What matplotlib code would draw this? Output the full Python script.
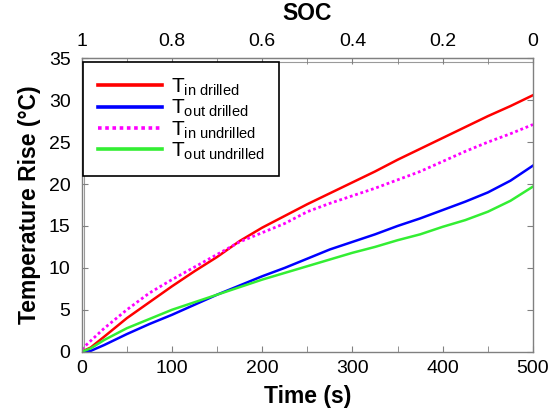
import matplotlib
matplotlib.use("Agg")
import matplotlib.pyplot as plt
from matplotlib.ticker import MultipleLocator

plt.rcParams["font.family"] = ["Liberation Sans", "DejaVu Sans"]
plt.rcParams["mathtext.fontset"] = "custom"
plt.rcParams["mathtext.rm"] = "Liberation Sans"
plt.rcParams["mathtext.it"] = "Liberation Sans"

# time (s)
time_s = [0, 10, 25, 50, 75, 100, 125, 150, 175, 200, 225, 250,
          275, 300, 325, 350, 375, 400, 425, 450, 475, 500]

# temperature rise (°C)
t_in_drilled = [0.0, 0.5, 1.8, 4.0, 5.9, 7.8, 9.6, 11.3, 13.2, 14.8, 16.2, 17.6,
                18.9, 20.2, 21.5, 22.9, 24.2, 25.5, 26.8, 28.1, 29.3, 30.6]
t_out_drilled = [0.0, 0.1, 0.8, 2.1, 3.3, 4.4, 5.6, 6.8, 7.9, 9.0, 10.0, 11.1,
                 12.2, 13.1, 14.0, 15.0, 15.9, 16.9, 17.9, 19.0, 20.4, 22.2]
t_in_undrilled = [0.3, 1.3, 2.8, 5.0, 7.0, 8.6, 10.1, 11.6, 13.1, 14.2, 15.3, 16.7,
                  17.7, 18.6, 19.5, 20.5, 21.5, 22.7, 23.9, 25.0, 26.0, 27.1]
t_out_undrilled = [0.0, 0.4, 1.4, 2.8, 3.9, 5.0, 5.9, 6.8, 7.7, 8.6, 9.4, 10.2,
                   11.0, 11.8, 12.5, 13.3, 14.0, 14.9, 15.7, 16.7, 18.0, 19.7]

# state of charge labels on the top axis
soc_ticks = [1, 0.8, 0.6, 0.4, 0.2, 0]

fig = plt.figure(figsize=(5.55, 4.13), dpi=100)
ax = fig.add_axes([81.7 / 555, 1 - 351.7 / 413, (533 - 81.7) / 555, (351.7 - 58.3) / 413])

# faint inner frame line (top-left)
ax_in = fig.add_axes([84 / 555, 1 - 351.7 / 413, (533 - 84) / 555, (351.7 - 61.7) / 413])
ax_in.set_xticks([])
ax_in.set_yticks([])
ax_in.patch.set_visible(False)
for side in ["right", "bottom"]:
    ax_in.spines[side].set_visible(False)
for side in ["left", "top"]:
    ax_in.spines[side].set_color("#9a9a9a")
    ax_in.spines[side].set_linewidth(0.8)
ax_in.set_zorder(0)
ax.set_zorder(1)
ax.patch.set_visible(False)

ax.plot(time_s, t_in_drilled, color="#ff0000", lw=1.8,
        label=r"$\mathrm{T}_{\mathrm{in\ drilled}}$")
ax.plot(time_s, t_out_drilled, color="#0000ff", lw=1.8,
        label=r"$\mathrm{T}_{\mathrm{out\ drilled}}$")
ax.plot(time_s, t_in_undrilled, color="#ff00ff", lw=2.0, linestyle=(0, (1, 1)),
        label=r"$\mathrm{T}_{\mathrm{in\ undrilled}}$")
ax.plot(time_s, t_out_undrilled, color="#33ee33", lw=1.8,
        label=r"$\mathrm{T}_{\mathrm{out\ undrilled}}$")

ax.set_xlim(0, 500)
ax.set_ylim(0, 35)
ax.xaxis.set_major_locator(MultipleLocator(100))
ax.xaxis.set_minor_locator(MultipleLocator(50))
ax.yaxis.set_major_locator(MultipleLocator(5))
ax.tick_params(which="both", direction="in", right=True, colors="#808080",
               labelcolor="black", labelsize=14, length=4)
ax.tick_params(axis="y", pad=8)
ax.tick_params(axis="x", pad=6)
for s in ax.spines.values():
    s.set_color("#808080")
    s.set_linewidth(1.0)

ax.set_xlabel("Time (s)", fontsize=16.5, fontweight="bold", labelpad=6)
ax.set_ylabel("Temperature Rise (°C)", fontsize=16.5, fontweight="bold", labelpad=6)

soc = ax.secondary_xaxis("top", functions=(lambda t: 1 - t / 500, lambda s: 500 * (1 - s)))
soc.set_xticks(soc_ticks)
soc.xaxis.set_minor_locator(MultipleLocator(0.1))
soc.set_xticklabels([f"{v:g}" for v in soc_ticks])
soc.tick_params(which="both", direction="in", colors="#808080",
                labelcolor="black", labelsize=14, length=4, pad=6)
soc.spines["top"].set_color("#808080")
soc.set_xlabel("SOC", fontsize=16.5, fontweight="bold", labelpad=9)

leg = ax.legend(loc="upper left", bbox_to_anchor=(0.003, 0.987), borderaxespad=0,
                fontsize=15, handlelength=3.1, labelspacing=0.0, handletextpad=0.4,
                borderpad=0.7, fancybox=False, framealpha=1)
leg.get_frame().set_edgecolor("black")
leg.get_frame().set_linewidth(1.2)
for h in leg.get_lines():
    h.set_linewidth(2.6)

fig.savefig("out.png", dpi=100)
